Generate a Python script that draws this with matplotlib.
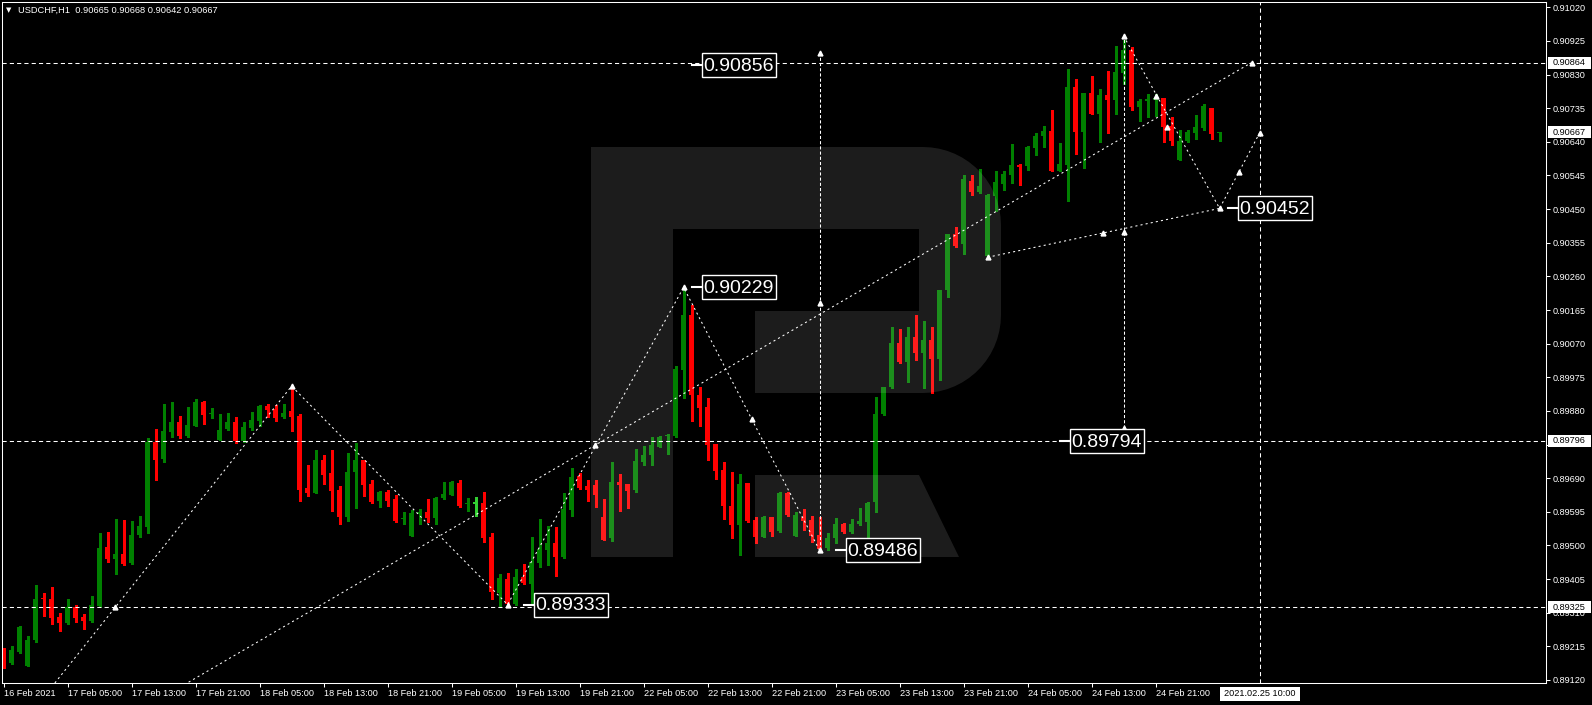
import numpy as np
import matplotlib
matplotlib.use('Agg')
import matplotlib.pyplot as plt
from matplotlib.patches import Rectangle, PathPatch
from matplotlib.path import Path
from matplotlib.transforms import Affine2D
from matplotlib import font_manager

"""
USDCHF H1 candlestick chart with wave markup (MT4 style, black background)
"""

# ---- data (hourly bars, 16 Feb 21:00 .. 25 Feb 05:00) ----
opens = [0.89193, 0.89168, 0.89199, 0.89159, 0.89233, 0.89349, 0.89349, 0.89298, 0.89281, 0.89326,
         0.89298, 0.89287, 0.89329, 0.89496, 0.89462, 0.89476, 0.89450, 0.89530, 0.89552, 0.89792,
         0.89744, 0.89820, 0.89849, 0.89809, 0.89837, 0.89905, 0.89871, 0.89798, 0.89829, 0.89849,
         0.89795, 0.89832, 0.89851, 0.89894, 0.89885, 0.89863, 0.89880, 0.89866, 0.89662, 0.89648,
         0.89741, 0.89705, 0.89657, 0.89580, 0.89708, 0.89741, 0.89674, 0.89626, 0.89651, 0.89631,
         0.89575, 0.89527, 0.89589, 0.89594, 0.89578, 0.89634, 0.89642, 0.89676, 0.89617, 0.89620,
         0.89620, 0.89524, 0.89366, 0.89405, 0.89336, 0.89411, 0.89391, 0.89450, 0.89487, 0.89507,
         0.89467, 0.89600, 0.89696, 0.89668, 0.89671, 0.89580, 0.89521, 0.89679, 0.89674, 0.89657,
         0.89736, 0.89755, 0.89778, 0.89809, 0.89809, 0.89996, 0.90151, 0.89925, 0.89891, 0.89787,
         0.89713, 0.89612, 0.89558, 0.89676, 0.89572, 0.89524, 0.89580, 0.89541, 0.89648, 0.89527,
         0.89580, 0.89572, 0.89530, 0.89493, 0.89521, 0.89560, 0.89538, 0.89560, 0.89566, 0.89623,
         0.89871, 0.89948, 0.90072, 0.90018, 0.90090, 0.90044, 0.90081, 0.90027, 0.90221, 0.90380,
         0.90351, 0.90529, 0.90498, 0.90318, 0.90487, 0.90521, 0.90546, 0.90575, 0.90572, 0.90623,
         0.90657, 0.90671, 0.90558, 0.90575, 0.90795, 0.90668, 0.90778, 0.90719, 0.90772, 0.90758,
         0.90834, 0.90899, 0.90738, 0.90755, 0.90758, 0.90764, 0.90685, 0.90589, 0.90642, 0.90665,
         0.90679, 0.90736, 0.90665]
highs = [0.89210, 0.89216, 0.89272, 0.89244, 0.89388, 0.89366, 0.89383, 0.89309, 0.89349, 0.89332,
         0.89306, 0.89357, 0.89535, 0.89538, 0.89575, 0.89572, 0.89569, 0.89583, 0.89803, 0.89829,
         0.89900, 0.89905, 0.89866, 0.89891, 0.89914, 0.89908, 0.89888, 0.89871, 0.89874, 0.89863,
         0.89849, 0.89877, 0.89897, 0.89900, 0.89897, 0.89900, 0.89950, 0.89871, 0.89727, 0.89770,
         0.89755, 0.89770, 0.89668, 0.89761, 0.89789, 0.89741, 0.89685, 0.89654, 0.89657, 0.89642,
         0.89594, 0.89600, 0.89603, 0.89631, 0.89637, 0.89679, 0.89682, 0.89685, 0.89634, 0.89637,
         0.89651, 0.89535, 0.89419, 0.89422, 0.89433, 0.89448, 0.89524, 0.89575, 0.89555, 0.89552,
         0.89648, 0.89719, 0.89705, 0.89685, 0.89685, 0.89631, 0.89736, 0.89702, 0.89674, 0.89772,
         0.89781, 0.89806, 0.89809, 0.89815, 0.90007, 0.90229, 0.90179, 0.89948, 0.89916, 0.89787,
         0.89736, 0.89708, 0.89702, 0.89676, 0.89580, 0.89583, 0.89580, 0.89651, 0.89651, 0.89594,
         0.89603, 0.89583, 0.89580, 0.89535, 0.89578, 0.89563, 0.89575, 0.89606, 0.89623, 0.89919,
         0.89948, 0.90117, 0.90111, 0.90117, 0.90151, 0.90134, 0.90117, 0.90221, 0.90380, 0.90399,
         0.90546, 0.90546, 0.90563, 0.90493, 0.90558, 0.90558, 0.90634, 0.90577, 0.90628, 0.90665,
         0.90685, 0.90730, 0.90637, 0.90846, 0.90817, 0.90778, 0.90826, 0.90789, 0.90840, 0.90911,
         0.90928, 0.90908, 0.90761, 0.90775, 0.90775, 0.90764, 0.90710, 0.90674, 0.90674, 0.90716,
         0.90747, 0.90736, 0.90668]
lows = [0.89154, 0.89165, 0.89196, 0.89159, 0.89227, 0.89301, 0.89278, 0.89258, 0.89278, 0.89284,
        0.89264, 0.89284, 0.89326, 0.89453, 0.89419, 0.89445, 0.89448, 0.89524, 0.89535, 0.89685,
        0.89736, 0.89806, 0.89803, 0.89806, 0.89837, 0.89843, 0.89860, 0.89798, 0.89826, 0.89789,
        0.89792, 0.89826, 0.89837, 0.89863, 0.89851, 0.89860, 0.89823, 0.89626, 0.89640, 0.89648,
        0.89674, 0.89597, 0.89560, 0.89569, 0.89606, 0.89640, 0.89620, 0.89609, 0.89612, 0.89566,
        0.89560, 0.89527, 0.89560, 0.89566, 0.89560, 0.89631, 0.89642, 0.89609, 0.89597, 0.89583,
        0.89510, 0.89349, 0.89326, 0.89333, 0.89333, 0.89391, 0.89338, 0.89439, 0.89445, 0.89414,
        0.89465, 0.89583, 0.89659, 0.89626, 0.89609, 0.89515, 0.89513, 0.89597, 0.89606, 0.89651,
        0.89727, 0.89727, 0.89778, 0.89758, 0.89806, 0.89916, 0.89851, 0.89837, 0.89741, 0.89688,
        0.89575, 0.89521, 0.89473, 0.89566, 0.89507, 0.89524, 0.89527, 0.89538, 0.89583, 0.89527,
        0.89544, 0.89510, 0.89486, 0.89487, 0.89507, 0.89535, 0.89535, 0.89558, 0.89524, 0.89594,
        0.89869, 0.89945, 0.90015, 0.89962, 0.90024, 0.89945, 0.89931, 0.89967, 0.90202, 0.90343,
        0.90323, 0.90490, 0.90495, 0.90315, 0.90445, 0.90504, 0.90524, 0.90518, 0.90561, 0.90603,
        0.90625, 0.90558, 0.90558, 0.90473, 0.90606, 0.90566, 0.90719, 0.90640, 0.90665, 0.90719,
        0.90803, 0.90730, 0.90699, 0.90710, 0.90713, 0.90640, 0.90631, 0.90589, 0.90640, 0.90648,
        0.90674, 0.90648, 0.90642]
closes = [0.89165, 0.89205, 0.89270, 0.89233, 0.89349, 0.89346, 0.89295, 0.89281, 0.89326, 0.89295,
          0.89287, 0.89332, 0.89493, 0.89462, 0.89476, 0.89448, 0.89530, 0.89555, 0.89792, 0.89741,
          0.89823, 0.89849, 0.89809, 0.89840, 0.89905, 0.89869, 0.89874, 0.89826, 0.89849, 0.89795,
          0.89835, 0.89854, 0.89894, 0.89883, 0.89860, 0.89874, 0.89863, 0.89657, 0.89648, 0.89741,
          0.89699, 0.89654, 0.89580, 0.89708, 0.89741, 0.89671, 0.89623, 0.89651, 0.89626, 0.89569,
          0.89578, 0.89592, 0.89594, 0.89578, 0.89634, 0.89645, 0.89679, 0.89612, 0.89620, 0.89620,
          0.89521, 0.89369, 0.89408, 0.89336, 0.89411, 0.89394, 0.89453, 0.89490, 0.89507, 0.89467,
          0.89603, 0.89693, 0.89662, 0.89657, 0.89642, 0.89515, 0.89679, 0.89671, 0.89654, 0.89738,
          0.89755, 0.89784, 0.89806, 0.89812, 0.89998, 0.90151, 0.89925, 0.89888, 0.89784, 0.89710,
          0.89612, 0.89558, 0.89674, 0.89569, 0.89524, 0.89580, 0.89538, 0.89648, 0.89586, 0.89586,
          0.89569, 0.89527, 0.89490, 0.89521, 0.89560, 0.89538, 0.89560, 0.89569, 0.89620, 0.89871,
          0.89948, 0.90072, 0.90018, 0.90090, 0.90044, 0.90081, 0.90027, 0.90221, 0.90380, 0.90346,
          0.90535, 0.90498, 0.90515, 0.90490, 0.90527, 0.90549, 0.90575, 0.90569, 0.90625, 0.90657,
          0.90671, 0.90558, 0.90577, 0.90795, 0.90668, 0.90778, 0.90719, 0.90772, 0.90758, 0.90837,
          0.90899, 0.90738, 0.90755, 0.90761, 0.90764, 0.90682, 0.90642, 0.90642, 0.90668, 0.90682,
          0.90741, 0.90662, 0.90667]

x_tick_bars = [0, 8, 16, 24, 32, 40, 48, 56, 64, 72, 80, 88, 96, 104, 112, 120, 128, 136, 144]
x_tick_labels = ['16 Feb 2021', '17 Feb 05:00', '17 Feb 13:00', '17 Feb 21:00', '18 Feb 05:00',
                 '18 Feb 13:00', '18 Feb 21:00', '19 Feb 05:00', '19 Feb 13:00', '19 Feb 21:00',
                 '22 Feb 05:00', '22 Feb 13:00', '22 Feb 21:00', '23 Feb 05:00', '23 Feb 13:00',
                 '23 Feb 21:00', '24 Feb 05:00', '24 Feb 13:00', '24 Feb 21:00']
y_ticks = [0.91020, 0.90925, 0.90830, 0.90735, 0.90640, 0.90545, 0.90450, 0.90355, 0.90260,
           0.90165, 0.90070, 0.89975, 0.89880, 0.89785, 0.89690, 0.89595, 0.89500, 0.89405,
           0.89310, 0.89215, 0.89120]
# tick labels that sit under a level box on the price scale
hidden_ticks = [0.89785]

# horizontal levels and the forecast time line
h_levels = [0.90864, 0.89796, 0.89325]
cursor_bar = 157
cursor_label = '2021.02.25 10:00'
last_price = 0.90667

# wave markup (bar index, price)
wave_bars = [6, 36, 63, 85, 102]
wave_prices = [0.89100, 0.89950, 0.89333, 0.90229, 0.89486]
trend_bars = [22, 156]
trend_prices = [0.89099, 0.90864]
base_bars = [123, 152]
base_prices = [0.90314, 0.90452]
fcst_bars = [140, 152, 157]
fcst_prices = [0.90939, 0.90452, 0.90665]
vert_bars = [102, 140]
vert_lows = [0.89486, 0.89832]
vert_highs = [0.90891, 0.90939]
mark_bars = [13.9, 36, 63, 73.9, 85, 93.5, 102, 102, 102, 123, 137.4, 140, 140, 140, 144, 145.4,
             152, 154.4, 156, 157]
mark_prices = [0.89326, 0.89950, 0.89333, 0.89784, 0.90229, 0.89857, 0.89486, 0.90185, 0.90891,
               0.90314, 0.90382, 0.90385, 0.90939, 0.89832, 0.90769, 0.90682, 0.90452, 0.90555,
               0.90864, 0.90665]
label_bars = [86, 86, 65, 104, 132, 153]
label_prices = [0.90856, 0.90229, 0.89333, 0.89486, 0.89794, 0.90452]

W, H = 1592, 705
BULL, BEAR, DOJI = '#008000', '#ff0000', '#32cd32'

installed = {f.name for f in font_manager.fontManager.ttflist}
small_font = 'Liberation Sans' if 'Liberation Sans' in installed else 'DejaVu Sans'
if 'Liberation Sans Narrow' in installed:
    big_font, big_size = 'Liberation Sans Narrow', 17
else:
    big_font, big_size = small_font, 14

fig = plt.figure(figsize=(W / 100, H / 100), dpi=100, facecolor='black')
ax = fig.add_axes([2 / W, (H - 683) / H, 1544 / W, 681 / H])
ax.set_facecolor('black')
# pixel space measured from the top-left corner of the image
px = Affine2D().scale(1, -1).translate(0, H)

ax.set_xlim(-0.2, 192.8)
ax.set_ylim(0.891115, 0.910350)

o = np.array(opens)
hi = np.array(highs)
lo = np.array(lows)
c = np.array(closes)
k = np.arange(len(o))
colors = np.where(c > o, BULL, np.where(c < o, BEAR, DOJI))

ax.vlines(k, lo, hi, colors=colors, linewidth=0.75, zorder=2, antialiased=False)
body = c - o
body = np.where(np.abs(body) < 0.00003, 0.00003, body)
ax.bar(k, body, bottom=np.where(c == o, o - 0.000015, o), width=0.625, color=colors,
       linewidth=0, zorder=2, antialiased=False)

# watermark "R"
r = 78
t = np.linspace(0, np.pi / 2, 16)
outer = [(591, 147), (923, 147)]
outer += list(zip(923 + r * np.sin(t), 225 - r * np.cos(t)))
outer += [(1001, 315)]
outer += list(zip(923 + r * np.cos(t), 315 + r * np.sin(t)))
outer += [(755, 393), (755, 311), (919, 311), (919, 229), (673, 229), (673, 557), (591, 557), (591, 147)]
leg = [(755, 475), (919, 475), (959, 557), (755, 557), (755, 475)]
verts = outer + leg
codes = ([Path.MOVETO] + [Path.LINETO] * (len(outer) - 2) + [Path.CLOSEPOLY]
         + [Path.MOVETO] + [Path.LINETO] * 3 + [Path.CLOSEPOLY])
ax.add_patch(PathPatch(Path(verts, codes), transform=px, facecolor='white', edgecolor='none',
                       alpha=0.115, zorder=3))

# levels and markup lines
for lvl in h_levels:
    ax.axhline(lvl, color='white', lw=0.75, ls=(0, (4, 3)), zorder=4)
ax.axvline(cursor_bar, color='white', lw=0.75, ls=(0, (4, 3)), zorder=4)
dots = dict(color='white', lw=0.75, ls=(0, (2, 3)), zorder=4)
ax.plot(wave_bars, wave_prices, **dots)
ax.plot(trend_bars, trend_prices, **dots)
ax.plot(base_bars, base_prices, **dots)
ax.plot(fcst_bars, fcst_prices, **dots)
ax.vlines(vert_bars, vert_lows, vert_highs, colors='white', lw=0.75, linestyles=[(0, (3, 2))], zorder=4)
ax.plot(mark_bars, mark_prices, ls='none', marker='^', ms=3.5, color='white', zorder=5)

# boxed price labels
for kb, pr in zip(label_bars, label_prices):
    x0, y0 = ax.transData.transform((kb, pr))
    y0 = H - y0
    ax.plot([x0, x0 + 10], [y0, y0], transform=px, color='white', lw=1.5, zorder=6, clip_on=False)
    ax.add_patch(Rectangle((x0 + 10, y0 - 12), 74, 24, transform=px, facecolor='black',
                           edgecolor='white', lw=1, zorder=6, clip_on=False))
    ax.text(x0 + 47, y0 + 1, f'{pr:.5f}', transform=px, color='white', fontsize=big_size,
            family=big_font, ha='center', va='center', zorder=7, clip_on=False)

# axes styling
for sp in ax.spines.values():
    sp.set_color('white')
    sp.set_linewidth(0.75)
ax.yaxis.tick_right()
ax.set_yticks(y_ticks)
ax.set_yticklabels(['' if v in hidden_ticks else f'{v:.5f}' for v in y_ticks])
ax.set_xticks(x_tick_bars)
ax.set_xticklabels(x_tick_labels)
ax.tick_params(colors='white', labelcolor='white', labelsize=6.6, length=3, width=0.75, pad=1.5)
for lbl in ax.get_xticklabels():
    lbl.set_ha('left')
    lbl.set_family(small_font)
for lbl in ax.get_yticklabels():
    lbl.set_family(small_font)

# right-axis level boxes
for lvl in h_levels + [last_price]:
    _, y0 = ax.transData.transform((0, lvl))
    y0 = H - y0
    ax.add_patch(Rectangle((1548, y0 - 6), 43, 12, transform=px, facecolor='white',
                           edgecolor='none', zorder=8, clip_on=False))
    ax.text(1569.5, y0, f'{lvl:.5f}', transform=px, color='black', fontsize=6.6,
            family=small_font, ha='center', va='center', zorder=9, clip_on=False)

# time box under the forecast line
xc, _ = ax.transData.transform((cursor_bar, 0.9))
ax.add_patch(Rectangle((xc - 40, 687), 80, 14, transform=px, facecolor='white',
                       edgecolor='none', zorder=8, clip_on=False))
ax.text(xc, 694, cursor_label, transform=px, color='black', fontsize=6.6, family=small_font,
        ha='center', va='center', zorder=9, clip_on=False)

# header
ax.text(9, 10, '\u25bc', transform=px, color='white', fontsize=5, ha='center', va='center',
        clip_on=False, zorder=9)
ax.text(18, 10, 'USDCHF,H1  0.90665 0.90668 0.90642 0.90667', transform=px, color='white',
        fontsize=6.7, family=small_font, ha='left', va='center', clip_on=False, zorder=9)

fig.savefig('out.png', dpi=100, facecolor='black')
